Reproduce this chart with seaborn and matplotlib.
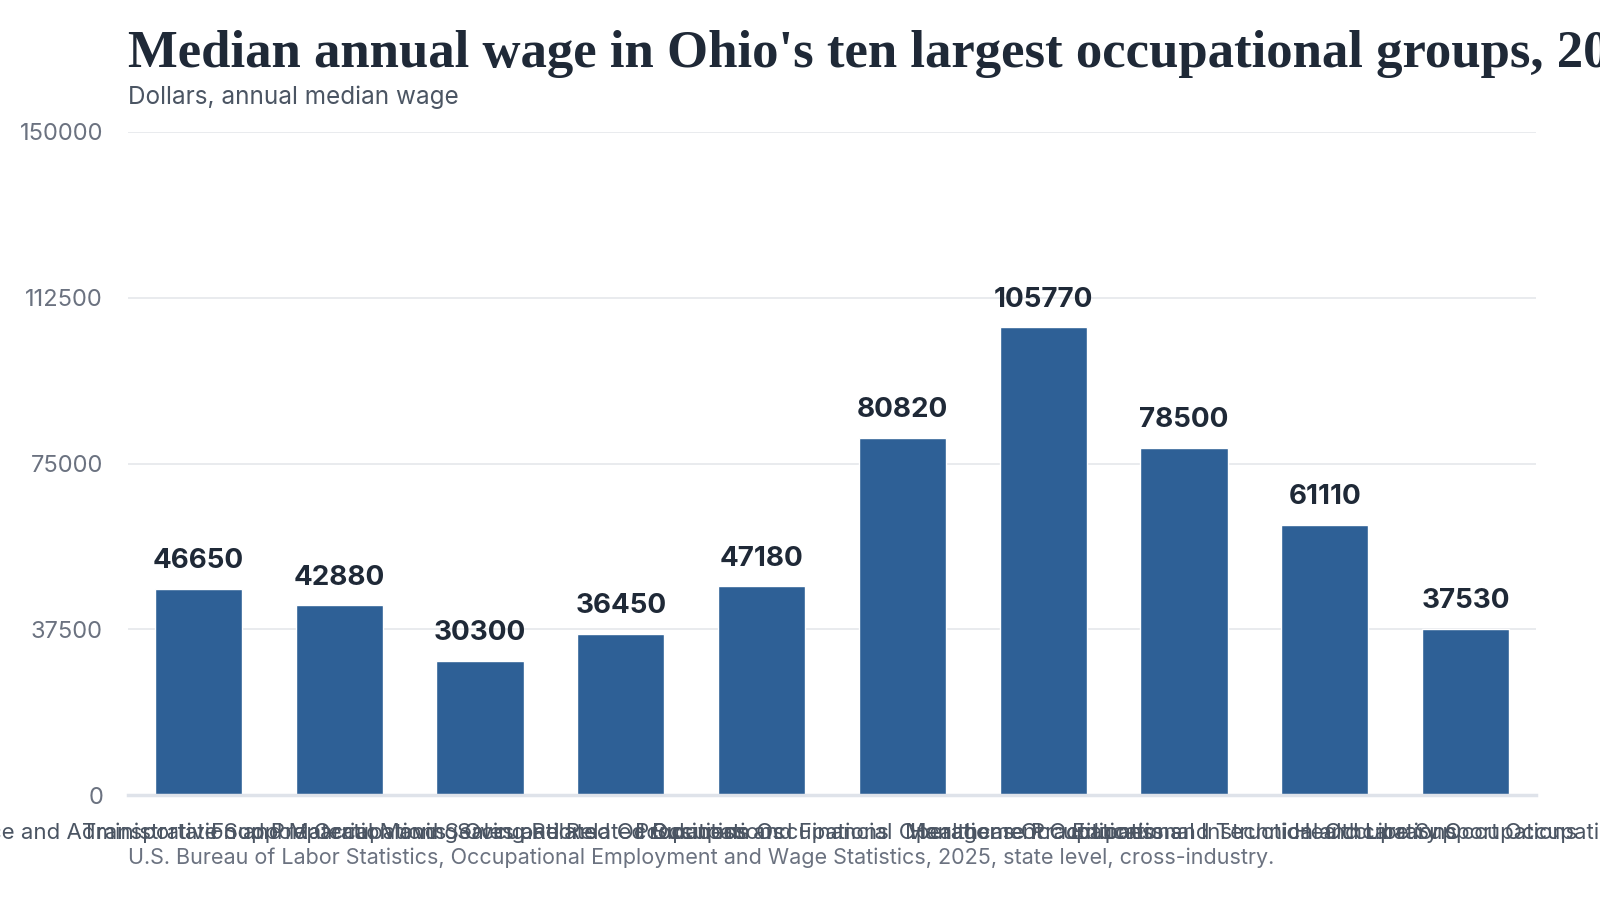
import matplotlib
matplotlib.use("Agg")
import matplotlib.pyplot as plt
import seaborn as sns
import pandas as pd

# Ohio, ten largest occupational groups (OEWS 2025)
occupations = [
    "Office and Administrative Support Occupations",
    "Transportation and Material Moving Occupations",
    "Food Preparation and Serving Related Occupations",
    "Sales and Related Occupations",
    "Production Occupations",
    "Business and Financial Operations Occupations",
    "Management Occupations",
    "Healthcare Practitioners and Technical Occupations",
    "Educational Instruction and Library Occupations",
    "Healthcare Support Occupations",
]
median_wage = [46650, 42880, 30300, 36450, 47180, 80820, 105770, 78500, 61110, 37530]
y_ticks = [0, 37500, 75000, 112500, 150000]

title = "Median annual wage in Ohio's ten largest occupational groups, 2025"
subtitle = "Dollars, annual median wage"
source = "U.S. Bureau of Labor Statistics, Occupational Employment and Wage Statistics, 2025, state level, cross-industry."

df = pd.DataFrame({"occupation": occupations, "wage": median_wage})

sns.set_theme(style="white")
plt.rcParams['font.family'] = ['Inter', 'DejaVu Sans']

fig = plt.figure(figsize=(16, 9), dpi=100)
ax = fig.add_axes([128 / 1600, 105 / 900, 1408 / 1600, 663 / 900])

sns.barplot(data=df, x="occupation", y="wage", color="#2e6096", width=0.62,
            saturation=1, ax=ax, zorder=3)

ax.set_xlim(-0.5, len(occupations) - 0.5)
ax.set_ylim(0, 150000)
ax.set_yticks(y_ticks)
ax.set_yticklabels([str(t) for t in y_ticks])
ax.grid(axis='y', color='#e5e7eb', linewidth=1.2, zorder=0)
ax.grid(axis='x', visible=False)
for s in ['top', 'right', 'left']:
    ax.spines[s].set_visible(False)
ax.spines['bottom'].set_color('#dfe3ea')
ax.spines['bottom'].set_linewidth(2.5)
ax.spines['bottom'].set_zorder(4)
ax.tick_params(axis='y', length=0, pad=18, labelsize=17, labelcolor='#6b7280')
ax.tick_params(axis='x', length=0, pad=20, labelsize=16, labelcolor='#4b5563')
ax.set_xlabel("")
ax.set_ylabel("")

for i, v in enumerate(median_wage):
    ax.annotate(str(v), (i, v), xytext=(0, 20), textcoords='offset points',
                ha='center', va='center', fontsize=20, fontweight='bold',
                color='#1f2937')

fig.text(128 / 1600, 1 - 54 / 900, title, family='Liberation Serif',
         fontweight='bold', fontsize=38, color='#1f2937', va='center')
fig.text(128 / 1600, 1 - 97 / 900, subtitle, fontsize=17.5, color='#4b5563',
         va='center')
fig.text(128 / 1600, 1 - 858 / 900, source, fontsize=15.5, color='#6b7280',
         va='center')

fig.savefig("out.png", dpi=100)
